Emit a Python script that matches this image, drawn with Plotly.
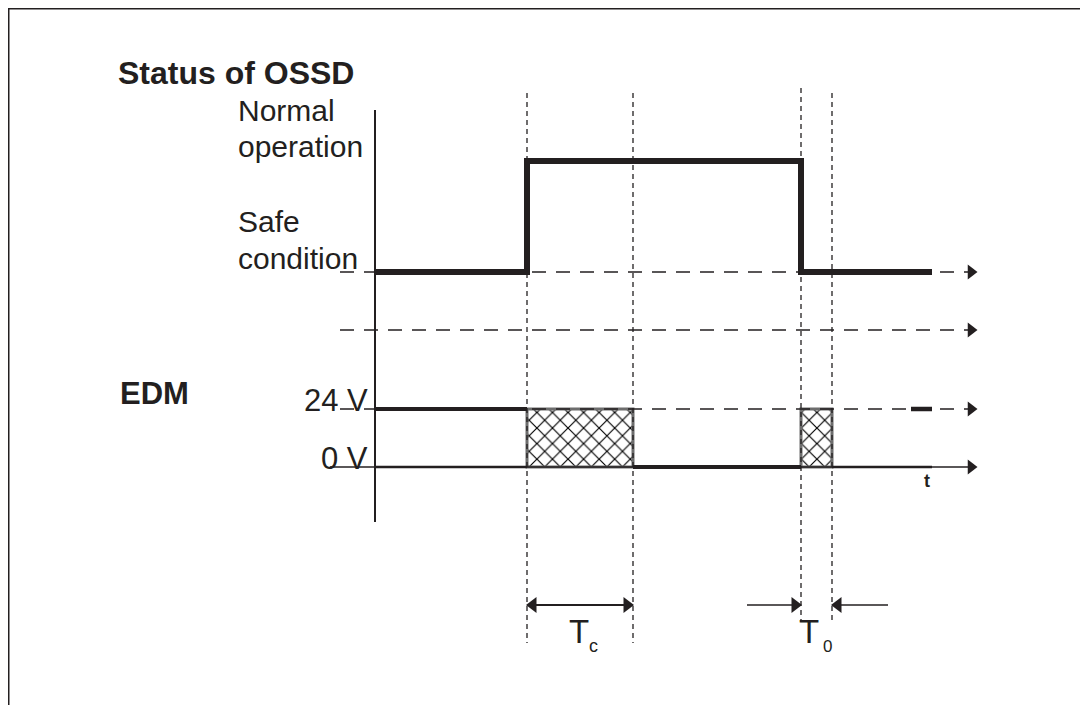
import plotly.graph_objects as go

# ---------------- data (diagram units: time along x, level along y) ----------------
# key instants on the time axis
t_axis = 375      # origin (vertical axis)
t_on = 527        # OSSD switches to normal operation / start of Tc
t_c_end = 633     # end of Tc window
t_off = 801       # OSSD switches to safe condition / start of T0
t_0_end = 832     # end of T0 window
t_sig_end = 932   # end of drawn signal
t_arrow = 977     # tip of time arrows
t_label = 340     # start of the dashed guide lines (under labels)

# levels
lvl_normal = 161
lvl_safe = 272
lvl_sep = 330
lvl_24v = 409
lvl_0v = 467

# OSSD status signal
ossd_t = [t_axis, t_on, t_on, t_off, t_off, t_sig_end]
ossd_lvl = [lvl_safe, lvl_safe, lvl_normal, lvl_normal, lvl_safe, lvl_safe]

# EDM signal segments
edm_hi_t = [t_axis, t_on]
edm_lo_t = [t_c_end, t_off]
edm_tail_t = [t_0_end, t_sig_end]
edm_mark_t = [911, t_sig_end]

# uncertain (hatched) windows
win_start = [t_on, t_off]
win_end = [t_c_end, t_0_end]

# vertical dashed markers: time, top, bottom
vlines_t = [t_on, t_c_end, t_off, t_0_end]
vlines_top = [93, 93, 88, 93]
vlines_bot = [643, 643, 622, 622]

# dimension arrows
dim_y = 605
t0_left_from = 747
t0_right_from = 888

ink = "#231f20"
FONT = "Liberation Sans, Arial, sans-serif"

fig = go.Figure()

def line(xs, ys, width, dash="solid", color=ink):
    fig.add_trace(go.Scatter(x=xs, y=ys, mode="lines",
                             line=dict(color=color, width=width, dash=dash),
                             hoverinfo="skip", showlegend=False))

def head(x, y, sym, size=12):
    fig.add_trace(go.Scatter(x=[x], y=[y], mode="markers",
                             marker=dict(symbol=sym, size=size, color=ink,
                                         line=dict(width=0)),
                             hoverinfo="skip", showlegend=False))

# hatched windows
for s, e in zip(win_start, win_end):
    fig.add_trace(go.Bar(
        x=[(s + e) / 2], y=[lvl_0v - lvl_24v], base=[lvl_24v], width=[e - s],
        marker=dict(color="white", line=dict(color="#6d6d6d", width=3),
                    pattern=dict(shape="x", fgcolor="#000000", bgcolor="white",
                                 size=11, solidity=0.2, fgopacity=1)),
        hoverinfo="skip", showlegend=False))

# vertical dashed markers
for t, a, b in zip(vlines_t, vlines_top, vlines_bot):
    line([t, t], [a, b], 1.3, dash="5px,4px")

# horizontal dashed guides with arrows
for lv in [lvl_safe, lvl_sep, lvl_24v]:
    line([t_label, t_arrow - 8], [lv, lv], 1.4, dash="14px,10px")
    head(t_arrow - 6, lv, "triangle-right", 13)

# 0 V time axis
line([330, t_arrow - 8], [lvl_0v, lvl_0v], 1.4)
head(t_arrow - 6, lvl_0v, "triangle-right", 13)

# vertical axis
line([t_axis, t_axis], [110, 522], 2)

# OSSD signal
line(ossd_t, ossd_lvl, 6)

# EDM signal
line([t_axis, t_on], [lvl_0v, lvl_0v], 2.5)
line(edm_hi_t, [lvl_24v, lvl_24v], 4)
line(edm_lo_t, [lvl_0v, lvl_0v], 4)
line(edm_tail_t, [lvl_0v, lvl_0v], 2.5)
line(edm_mark_t, [lvl_24v, lvl_24v], 4.5)

# dimension arrows
line([t_on + 4, t_c_end - 4], [dim_y, dim_y], 2)
head(t_on + 6, dim_y, "triangle-left", 14)
head(t_c_end - 6, dim_y, "triangle-right", 14)
line([t0_left_from, t_off - 6], [dim_y, dim_y], 1.6)
head(t_off - 6, dim_y, "triangle-right", 14)
line([t0_right_from, t_0_end + 6], [dim_y, dim_y], 1.6)
head(t_0_end + 6, dim_y, "triangle-left", 14)

# ---------------- text ----------------
def txt(x, y, s, size, bold=False, anchor="left"):
    fig.add_annotation(x=x, y=y, xref="x", yref="y", text=(f"<b>{s}</b>" if bold else s),
                       showarrow=False, xanchor=anchor, yanchor="middle",
                       font=dict(family=FONT, size=size, color=ink))

txt(116, 73, "Status of OSSD", 32, bold=True)
txt(236, 110, "Normal", 30)
txt(236, 146, "operation", 30)
txt(236, 221, "Safe", 30)
txt(236, 258, "condition", 30)
txt(118, 393, "EDM", 31, bold=True)
txt(370, 400, "24 V", 31, anchor="right")
txt(370, 458, "0 V", 31, anchor="right")
txt(922, 481, "t", 18, bold=True)
txt(567, 631, "T", 33)
txt(587, 646, "c", 18)
txt(797, 631, "T", 33)
txt(821, 646, "0", 17)

# frame (top and left edge of the figure)
fig.add_shape(type="line", xref="paper", yref="paper", x0=0, x1=1, y0=1, y1=1,
              line=dict(color=ink, width=3))
fig.add_shape(type="line", xref="paper", yref="paper", x0=0, x1=0, y0=0, y1=1,
              line=dict(color=ink, width=3))

# page body has an 8px offset, so axes are shifted to keep diagram units = screen pixels
fig.update_layout(
    width=1088, height=705, margin=dict(l=0, r=0, t=0, b=0),
    paper_bgcolor="white", plot_bgcolor="white", barmode="overlay",
    xaxis=dict(range=[8, 1096], visible=False, fixedrange=True),
    yaxis=dict(range=[713, 8], visible=False, fixedrange=True),
    showlegend=False,
)

fig.write_html("out.html")
